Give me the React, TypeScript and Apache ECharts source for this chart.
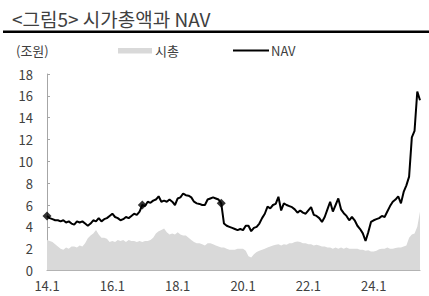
import React, { useEffect, useRef } from "react";
import * as echarts from "echarts";

// Monthly categories 2014.1 .. 2025.6
const startYear = 14;
const monthCount = 138;
const categories: string[] = [];
for (let i = 0; i < monthCount; i++) {
  categories.push(`${startYear + Math.floor(i / 12)}.${(i % 12) + 1}`);
}

// NAV (조원)
const navValues = [
  5.0, 4.8, 4.7, 4.6, 4.6, 4.5, 4.6, 4.4, 4.5, 4.3, 4.2, 4.5,
  4.4, 4.5, 4.3, 4.1, 4.3, 4.6, 4.5, 4.8, 4.5, 4.7, 4.8, 5.0,
  5.2, 4.9, 4.8, 4.6, 4.7, 4.9, 4.8, 5.0, 5.2, 5.1, 5.4, 6.0,
  5.9, 6.3, 6.2, 6.4, 6.5, 6.8, 6.3, 6.4, 6.3, 6.5, 6.3, 6.0,
  6.6, 6.7, 7.05, 6.9, 6.85, 6.7, 6.3, 6.15, 6.1, 6.0, 6.0, 6.5,
  6.6, 6.7, 6.6, 6.5, 6.15, 4.3, 4.1, 4.0, 3.9, 3.8, 3.7, 3.8,
  3.7, 4.1, 4.1, 3.6, 3.9, 4.0, 4.3, 4.8, 5.2, 5.85, 5.7, 6.0,
  6.1, 6.75, 5.5, 6.15, 6.0, 5.9, 5.8, 5.6, 5.3, 5.5, 5.3, 5.2,
  5.5, 5.8, 5.1, 5.0, 4.8, 4.45, 4.9, 5.6, 6.3, 5.4, 6.0, 6.6,
  5.6, 5.25, 5.0, 4.6, 4.9, 4.6, 4.1, 3.8, 3.4, 2.7, 3.5, 4.45,
  4.6, 4.7, 4.8, 5.0, 4.9, 5.4, 5.9, 6.3, 6.5, 6.8, 6.15, 7.2,
  7.8, 8.6, 12.2, 12.8, 16.4, 15.6,
];

// 시가총액 (조원)
const marketCapValues = [
  2.8, 2.7, 2.6, 2.4, 2.2, 2.0, 1.9, 2.1, 2.0, 2.2, 2.2, 2.1,
  2.3, 2.2, 2.5, 2.95, 3.2, 3.4, 3.7, 3.3, 3.0, 3.0, 2.9, 2.6,
  2.7, 2.6, 2.8, 2.7, 2.8, 2.6, 2.8, 2.7, 2.7, 2.6, 2.7, 2.6,
  2.7, 2.7, 2.8, 3.0, 3.4, 3.6, 3.7, 3.85, 3.5, 3.3, 3.4, 3.3,
  3.5, 3.3, 3.2, 3.2, 3.0, 2.8, 2.6, 2.5, 2.5, 2.4, 2.3, 2.5,
  2.5, 2.4, 2.3, 2.2, 2.1, 2.1, 2.0, 1.9, 1.9, 1.9, 2.0, 2.0,
  2.0, 1.8, 1.3, 1.2, 1.5, 1.7, 1.8, 1.9, 2.0, 2.1, 2.2, 2.3,
  2.35, 2.4, 2.3, 2.4, 2.35, 2.5, 2.5, 2.6, 2.65, 2.6, 2.5, 2.5,
  2.4, 2.4, 2.3, 2.35, 2.3, 2.2, 2.2, 2.1, 2.1, 2.0, 2.1, 2.0,
  2.1, 2.0, 2.1, 2.0, 2.0, 2.0, 2.0, 1.9, 1.9, 1.8, 1.85, 1.75,
  1.75, 1.8, 1.95, 2.0, 2.0, 2.1, 2.0, 2.0, 2.05, 2.1, 2.1, 2.2,
  2.3, 3.0, 3.3, 3.4, 4.0, 5.4,
];

// NAV points marked with diamonds
const markerIndices = [0, 35, 64];

const yTicks = { min: 0, max: 18, interval: 2 };

const FONT = "'Noto Sans CJK KR', 'Noto Sans', sans-serif";
const TEXT_COLOR = "#404040";

export default function App() {
  const ref = useRef<HTMLDivElement>(null);

  useEffect(() => {
    if (!ref.current) return;
    const chart = echarts.init(ref.current, null, { renderer: "svg" });
    chart.setOption({
      animation: false,
      textStyle: { fontFamily: FONT },
      grid: { left: 47, right: 9, top: 74, bottom: 25.5, containLabel: false },
      xAxis: {
        type: "category",
        data: categories,
        boundaryGap: false,
        axisLine: { show: true, lineStyle: { color: "#a6a6a6", width: 1 } },
        axisTick: { show: true, inside: true, interval: 23, length: 3, lineStyle: { color: "#a6a6a6" } },
        axisLabel: {
          interval: 23,
          color: TEXT_COLOR,
          fontSize: 13,
          fontFamily: FONT,
          margin: 8,
        },
        splitLine: { show: false },
      },
      yAxis: {
        type: "value",
        min: yTicks.min,
        max: yTicks.max,
        interval: yTicks.interval,
        axisLine: { show: true, lineStyle: { color: "#a6a6a6", width: 1 } },
        axisTick: { show: true, inside: true, length: 3, lineStyle: { color: "#a6a6a6" } },
        axisLabel: { color: TEXT_COLOR, fontSize: 13, fontFamily: FONT, margin: 14 },
        splitLine: { show: false },
      },
      series: [
        {
          name: "시총",
          type: "line",
          data: marketCapValues,
          symbol: "none",
          lineStyle: { width: 0, color: "#d9d9d9" },
          areaStyle: { color: "#d9d9d9", opacity: 1 },
          z: 1,
        },
        {
          name: "NAV",
          type: "line",
          data: navValues,
          symbol: "none",
          lineStyle: { width: 2, color: "#000000" },
          z: 3,
        },
        {
          name: "NAV marker",
          type: "scatter",
          data: markerIndices.map((i) => [i, navValues[i]]),
          symbol: "diamond",
          symbolSize: 9,
          itemStyle: { color: "#000000" },
          z: 4,
        },
      ],
      graphic: [
        {
          type: "text",
          x: 12,
          y: 18,
          style: {
            text: "<그림5> 시가총액과 NAV",
            font: `19px ${FONT}`,
            fill: "#404040",
            textVerticalAlign: "middle",
          },
        },
        {
          type: "rect",
          shape: { x: 3, y: 30.5, width: 426, height: 2.5 },
          style: { fill: "#000000" },
        },
        {
          type: "text",
          x: 16,
          y: 50.5,
          style: { text: "(조원)", font: `13px ${FONT}`, fill: TEXT_COLOR, textVerticalAlign: "middle" },
        },
        {
          type: "rect",
          shape: { x: 118, y: 48, width: 34, height: 5.5 },
          style: { fill: "#d9d9d9" },
        },
        {
          type: "text",
          x: 155,
          y: 50.5,
          style: { text: "시총", font: `13px ${FONT}`, fill: TEXT_COLOR, textVerticalAlign: "middle" },
        },
        {
          type: "line",
          shape: { x1: 233, y1: 50.5, x2: 269, y2: 50.5 },
          style: { stroke: "#000000", lineWidth: 2 },
        },
        {
          type: "text",
          x: 271,
          y: 50.5,
          style: { text: "NAV", font: `13px ${FONT}`, fill: TEXT_COLOR, textVerticalAlign: "middle" },
        },
      ],
    });
    return () => chart.dispose();
  }, []);

  return (
    <div
      ref={ref}
      style={{ position: "fixed", left: 0, top: 0, width: 429, height: 296, background: "#ffffff" }}
    />
  );
}
